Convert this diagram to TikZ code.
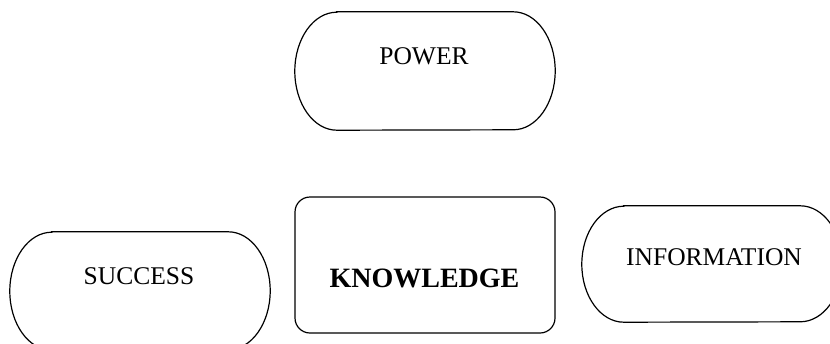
\documentclass[tikz,border=0pt]{standalone}
\usepackage{fontspec}
\setmainfont{Liberation Serif}
\newcommand\termpath[3]{%
  \draw[outline] ([xshift=#2]#1.north west) -- ([xshift=-#2]#1.north east)
    arc[start angle=90,end angle=-90,x radius=#2,y radius=#3]
    -- ([xshift=#2]#1.south west)
    arc[start angle=270,end angle=90,x radius=#2,y radius=#3] -- cycle;}
\begin{document}
\begin{tikzpicture}[x=1pt,y=-1pt,
  shapebox/.style={draw=none, rectangle, inner sep=0pt, minimum width=260pt},
  outline/.style={draw=black, line width=1.2pt},
  lbl/.style={anchor=base, inner sep=0pt, font=\fontsize{25.5}{30}\selectfont},
  boldlbl/.style={anchor=base, inner sep=0pt, font=\fontsize{28}{33}\selectfont\bfseries}]
\useasboundingbox (0,0) rectangle (830,343);
\clip (0,0) rectangle (830,343);
% boxes
\node[shapebox, minimum height=118pt] (power) at (425,71) {};
\node[shapebox, minimum height=118pt] (success) at (140,291) {};
\node[shapebox, minimum height=116pt] (information) at (712,264) {};
\node[shapebox, outline, rounded corners=15pt, minimum height=136pt] (knowledge) at (425,265) {};
\termpath{power}{42pt}{59pt}
\termpath{success}{42pt}{59pt}
\termpath{information}{42pt}{58pt}
% labels
\node[lbl] (powertext) at (424,64) {POWER};
\node[lbl] (successtext) at (139,284) {SUCCESS};
\node[boldlbl] (knowledgetext) at (424.5,287) {KNOWLEDGE};
\node[lbl] (informationtext) at (714,265) {INFORMATION};
\end{tikzpicture}
\end{document}
